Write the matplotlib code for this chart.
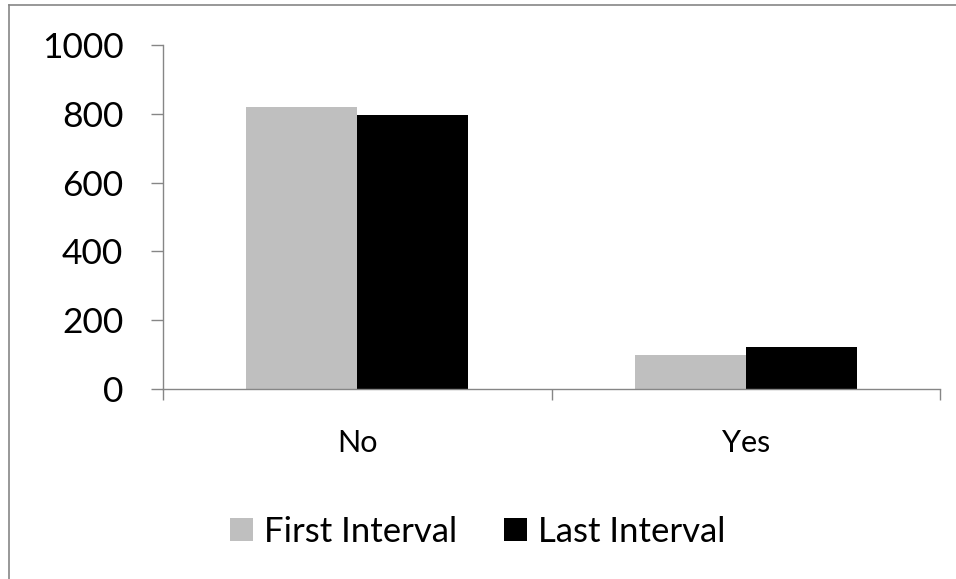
import matplotlib.pyplot as plt
import numpy as np
from matplotlib.lines import Line2D

# данные
categories = ['No', 'Yes']
first_interval = [820, 98]
last_interval = [797, 122]
y_ticks = [0, 200, 400, 600, 800, 1000]

plt.rcParams['font.family'] = ['Lato', 'DejaVu Sans']
axis_gray = '#868686'

fig = plt.figure(figsize=(9.56, 5.79), dpi=100)
ax = fig.add_axes([0.1705, 0.3282, 0.9833 - 0.1705, 0.9223 - 0.3282])

x = np.arange(len(categories))
w = 1 / 3.5
ax.bar(x - w / 2, first_interval, w, color='#bfbfbf', label='First Interval')
ax.bar(x + w / 2, last_interval, w, color='black', label='Last Interval')

ax.set_xlim(-0.5, len(categories) - 0.5)
ax.set_ylim(0, 1000)
ax.set_yticks(y_ticks)
ax.set_xticks(x)
ax.set_xticklabels(categories)
ax.set_xticks(np.arange(len(categories) + 1) - 0.5, minor=True)

for s in ['top', 'right']:
    ax.spines[s].set_visible(False)
for s in ['left', 'bottom']:
    ax.spines[s].set_color(axis_gray)
    ax.spines[s].set_linewidth(1.0)

ax.tick_params(axis='y', direction='out', length=8.6, width=1.0, color=axis_gray,
               labelsize=25.5, pad=20)
ax.tick_params(axis='x', which='major', length=0, labelsize=22, pad=29)
ax.tick_params(axis='x', which='minor', direction='out', length=8, width=1.0, color=axis_gray)

fig.legend(loc='center', bbox_to_anchor=(0.5, 0.081), ncol=2, frameon=False,
           fontsize=25, handlelength=0.64, handleheight=0.64, handletextpad=0.34,
           columnspacing=1.35)

# рамка вокруг рисунка (левая и верхняя линии)
fig.add_artist(Line2D([8.5 / 956, 8.5 / 956], [0, 1 - 5 / 579], transform=fig.transFigure,
                      color=axis_gray, linewidth=1.2))
fig.add_artist(Line2D([8.5 / 956, 1], [1 - 5 / 579, 1 - 5 / 579], transform=fig.transFigure,
                      color=axis_gray, linewidth=1.2))

fig.savefig('out.png', dpi=100)
